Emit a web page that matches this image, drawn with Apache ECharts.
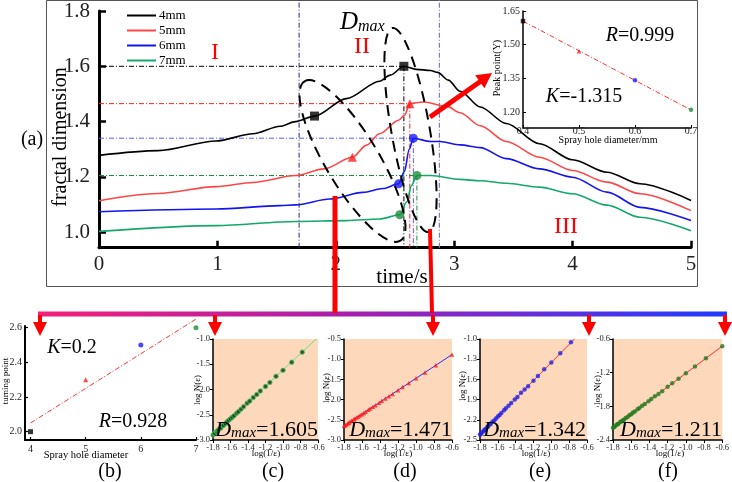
<!DOCTYPE html>
<html>
<head>
<meta charset="utf-8">
<script src="https://cdn.jsdelivr.net/npm/echarts@6/dist/echarts.min.js"></script>
<style>
  html, body { margin: 0; padding: 0; background: #fff; }
  #chart { width: 732px; height: 482px; }
</style>
</head>
<body>
<div id="chart"></div>
<script>
// ---- (a) fractal dimension vs time, one curve per spray hole diameter
const legendNames = ['4mm', '5mm', '6mm', '7mm'];
const t4 = [0, 0.5, 0.99, 1.3, 1.53, 1.66, 1.82, 2.09, 2.37, 2.46, 2.575, 2.68, 2.8, 2.86, 2.95, 3.05, 3.22, 3.44, 3.72, 4.0, 4.29, 4.57, 5.0];
const fd4 = [1.278, 1.295, 1.33, 1.356, 1.383, 1.40, 1.42, 1.483, 1.546, 1.568, 1.60, 1.589, 1.585, 1.578, 1.55, 1.51, 1.453, 1.393, 1.32, 1.262, 1.217, 1.175, 1.115];
const t5 = [0, 0.5, 0.99, 1.3, 1.66, 1.9, 2.14, 2.26, 2.37, 2.53, 2.58, 2.625, 2.74, 2.94, 3.05, 3.22, 3.44, 3.72, 4.0, 4.29, 4.57, 5.0];
const fd5 = [1.114, 1.14, 1.165, 1.18, 1.205, 1.229, 1.271, 1.315, 1.356, 1.405, 1.423, 1.465, 1.471, 1.455, 1.432, 1.385, 1.328, 1.271, 1.223, 1.181, 1.139, 1.078];
const t6 = [0, 0.99, 1.53, 1.66, 1.95, 2.23, 2.4, 2.53, 2.58, 2.62, 2.655, 2.8, 2.88, 3.05, 3.22, 3.44, 3.72, 4.0, 4.29, 4.57, 5.0];
const fd6 = [1.074, 1.084, 1.096, 1.099, 1.12, 1.144, 1.158, 1.175, 1.22, 1.30, 1.34, 1.328, 1.328, 1.316, 1.306, 1.266, 1.229, 1.199, 1.145, 1.09, 1.042];
const t7 = [0, 0.99, 1.66, 2.09, 2.37, 2.54, 2.6, 2.64, 2.685, 2.8, 3.05, 3.22, 3.44, 3.72, 4.0, 4.29, 4.57, 5.0];
const fd7 = [1.003, 1.024, 1.039, 1.042, 1.048, 1.063, 1.11, 1.17, 1.205, 1.205, 1.191, 1.186, 1.177, 1.163, 1.139, 1.098, 1.054, 1.005];

const turnT = [1.82, 2.14, 2.53, 2.54];
const turnD = [1.42, 1.271, 1.175, 1.063];
const peakT = [2.575, 2.625, 2.655, 2.685];
const peakD = [1.6, 1.465, 1.34, 1.205];
const phaseT = [1.69, 2.875];
const yTicksMain = [1.0, 1.2, 1.4, 1.6, 1.8];

// ---- inset: peak value vs hole diameter
const holeMm = [0.4, 0.5, 0.6, 0.7];
const dmax = [1.605, 1.471, 1.342, 1.211];
const dmaxFit = [1.605, 1.21];
const insetYTicks = [1.2, 1.35, 1.5, 1.65];

// ---- (b) turning point vs hole diameter
const holeB = [4, 5, 6, 7];
const turnB = [2.0, 2.3, 2.5, 2.6];
const turnFitB = [2.05, 2.65];
const bYTicks = [2.0, 2.2, 2.4, 2.6];

// ---- (c)-(f) box counting, log(1/eps) vs log N(eps)
const epsX = [-1.8, -1.79, -1.78, -1.76, -1.75, -1.74, -1.72, -1.71, -1.69, -1.68, -1.66, -1.64, -1.62, -1.6, -1.58, -1.56,
  -1.53, -1.51, -1.48, -1.45, -1.41, -1.38, -1.34, -1.3, -1.26, -1.2, -1.15, -1.08, -1.0, -0.9, -0.78, -0.6];
const logNc = [-2.9, -2.88, -2.87, -2.84, -2.82, -2.8, -2.77, -2.76, -2.72, -2.71, -2.68, -2.64, -2.61, -2.58, -2.55, -2.52,
  -2.47, -2.44, -2.39, -2.34, -2.27, -2.23, -2.16, -2.1, -2.03, -1.94, -1.86, -1.74, -1.62, -1.46, -1.26, null];
const logNd = [-2.65, -2.64, -2.62, -2.59, -2.58, -2.56, -2.53, -2.52, -2.49, -2.47, -2.44, -2.42, -2.39, -2.36, -2.33, -2.3,
  -2.25, -2.22, -2.18, -2.14, -2.08, -2.03, -1.97, -1.92, -1.86, -1.77, -1.69, -1.59, -1.47, -1.33, -1.15, -0.885];
const logNe = [-2.42, -2.41, -2.39, -2.37, -2.35, -2.34, -2.31, -2.3, -2.27, -2.26, -2.23, -2.21, -2.18, -2.15, -2.13, -2.1,
  -2.06, -2.03, -1.99, -1.95, -1.9, -1.86, -1.8, -1.75, -1.7, -1.62, -1.55, -1.45, -1.35, -1.21, -1.05, null];
const logNf = [-2.18, -2.17, -2.16, -2.13, -2.12, -2.11, -2.08, -2.07, -2.05, -2.04, -2.01, -1.99, -1.96, -1.94, -1.91, -1.89,
  -1.85, -1.83, -1.79, -1.76, -1.71, -1.67, -1.62, -1.58, -1.53, -1.45, -1.39, -1.31, -1.21, -1.09, -0.945, -0.727];
const fitC = [[-1.8, -2.9], [-0.62, -1.0]];
const fitD = [[-1.8, -2.65], [-0.6, -0.885]];
const fitE = [[-1.8, -2.42], [-0.74, -1.0]];
const fitF = [[-1.8, -2.18], [-0.6, -0.727]];
const epsTicks = [-1.8, -1.6, -1.4, -1.2, -1.0, -0.8, -0.6];
const yTicksC = [-3.0, -2.5, -2.0, -1.5, -1.0];
const yTicksD = [-3.0, -2.5, -2.0, -1.5, -1.0, -0.5];
const yTicksE = [-2.5, -2.2, -1.9, -1.6, -1.3, -1.0];
const yTicksF = [-2.4, -1.8, -1.2, -0.6];

const SERIF = '"Liberation Serif", "DejaVu Serif", serif';
const RED = '#ff0000';
const curveColors = ['#000000', '#ff4646', '#1414f0', '#14a86a'];
const markColors = ['#000000', '#ff1a1a', '#1a1aff', '#1e8c3c'];
const markShapes = ['rect', 'triangle', 'circle', 'circle'];
const Y_MIN = 0.944;

const chart = echarts.init(document.getElementById('chart'));

function axis(grid, min, max, o) {
  return {
    type: 'value', gridIndex: grid, min, max,
    axisLine: { lineStyle: { color: '#000', width: o.lw } },
    axisTick: { inside: o.inside, length: o.tl, lineStyle: { color: '#000', width: o.tw || o.lw },
      customValues: o.ticks },
    axisLabel: { fontFamily: SERIF, fontSize: o.fs, color: '#222', margin: o.m,
      customValues: o.ticks, formatter: v => o.dec == null ? String(v) : v.toFixed(o.dec) },
    splitLine: { show: false },
  };
}

function seg(pts, color, width, dash, gi) {
  return {
    type: 'line', xAxisIndex: gi, yAxisIndex: gi, data: pts, symbol: 'none', silent: true,
    clip: false, lineStyle: { color, width, type: dash }, z: 3,
  };
}
const DD = [5, 2, 1, 2];

const series = [];
// main curves
[[t4, fd4], [t5, fd5], [t6, fd6], [t7, fd7]].forEach(([t, v], i) => {
  series.push({
    type: 'line', name: legendNames[i], xAxisIndex: 0, yAxisIndex: 0,
    data: t.map((x, k) => [x, v[k]]), symbol: 'none', smooth: 0.3, smoothMonotone: 'x',
    lineStyle: { color: curveColors[i], width: 1.6 }, itemStyle: { color: curveColors[i] }, z: 5,
  });
});
// reference dash-dot lines
const refColors = ['#000000', '#ff2020', '#5a5aff', '#1a8a3a'];
peakT.forEach((t, i) => {
  series.push(seg([[0, peakD[i]], [t, peakD[i]]], refColors[i], 1, DD, 0));
  series.push(seg([[t, peakD[i]], [t, Y_MIN]], refColors[i], 1, DD, 0));
});
series.push(seg([[phaseT[0], Y_MIN], [phaseT[0], 1.84]], '#2a2a7a', 1, DD, 0));
series.push(seg([[phaseT[1], Y_MIN], [phaseT[1], 1.84]], '#7a7ad8', 1.2, DD, 0));
// markers
series.push({
  type: 'scatter', xAxisIndex: 0, yAxisIndex: 0, symbolSize: 9, z: 10,
  data: turnT.map((x, i) => ({ value: [x, turnD[i]], symbol: markShapes[i], itemStyle: { color: markColors[i] } })),
});
series.push({
  type: 'scatter', xAxisIndex: 0, yAxisIndex: 0, symbolSize: 9, z: 10,
  data: peakT.map((x, i) => ({ value: [x, peakD[i]], symbol: markShapes[i], itemStyle: { color: markColors[i] } })),
});
// inset
series.push(seg([[holeMm[0], dmaxFit[0]], [holeMm[3], dmaxFit[1]]], '#ff3030', 1, DD, 1));
series.push({
  type: 'scatter', xAxisIndex: 1, yAxisIndex: 1, symbolSize: 4.5, z: 10,
  data: holeMm.map((x, i) => ({ value: [x, dmax[i]], symbol: markShapes[i], itemStyle: { color: markColors[i] } })),
});
// (b)
series.push(seg([[holeB[0], turnFitB[0]], [holeB[3], turnFitB[1]]], '#ff3030', 1, DD, 2));
series.push({
  type: 'scatter', xAxisIndex: 2, yAxisIndex: 2, symbolSize: 5, z: 10,
  data: holeB.map((x, i) => ({ value: [x, turnB[i]], symbol: markShapes[i], itemStyle: { color: markColors[i] } })),
});
// (c)-(f)
const boxSets = [
  { y: logNc, fit: fitC, line: '#66e07a', sym: 'circle', fill: '#1c2e1c', border: '#3fcf5a' },
  { y: logNd, fit: fitD, line: '#2a2aff', sym: 'triangle', fill: '#ff1a1a', border: null },
  { y: logNe, fit: fitE, line: '#ff3030', sym: 'circle', fill: '#2020e8', border: null },
  { y: logNf, fit: fitF, line: '#ff3030', sym: 'circle', fill: '#1f7a1f', border: null },
];
boxSets.forEach((b, i) => {
  const gi = 3 + i;
  series.push(seg(b.fit, b.line, 1, 'solid', gi));
  series.push({
    type: 'scatter', xAxisIndex: gi, yAxisIndex: gi, symbol: b.sym, symbolSize: 4.5, z: 10,
    data: epsX.map((x, k) => [x, b.y[k]]).filter(p => p[1] != null),
    itemStyle: { color: b.fill, borderColor: b.border || b.fill, borderWidth: b.border ? 1 : 0 },
  });
});

const subX = { lw: 1.5, tl: 3, tw: 1, fs: 8.5, m: 3, inside: false, dec: 1, ticks: epsTicks };
const subY = t => ({ lw: 1.5, tl: 3, tw: 1, fs: 8.5, m: 3, inside: false, dec: 1, ticks: t });

// ---- text and drawn annotations
function txt(x, y, text, size, o = {}) {
  return {
    type: 'text', x, y, rotation: o.rot || 0, z: 60,
    style: {
      text, x: 0, y: 0, fill: o.color || '#000', align: o.align || 'center', verticalAlign: 'middle',
      fontFamily: SERIF, fontSize: size, fontStyle: o.italic ? 'italic' : 'normal', rich: o.rich,
    },
  };
}
function dmaxText(xr, y, val) {
  return txt(xr, y, '{D|D}{s|max}{n|=' + val + '}', 21, {
    align: 'right',
    rich: {
      D: { fontFamily: SERIF, fontSize: 22, fontStyle: 'italic', verticalAlign: 'top', lineHeight: 22 },
      s: { fontFamily: SERIF, fontSize: 15, fontStyle: 'italic', verticalAlign: 'bottom', lineHeight: 16, padding: [10, 0, 0, 0] },
      n: { fontFamily: SERIF, fontSize: 22, verticalAlign: 'top', lineHeight: 22 },
    },
  });
}
function kr(x, y, letter, val, size) {
  return txt(x, y, '{k|' + letter + '}{v|=' + val + '}', size, {
    rich: {
      k: { fontFamily: SERIF, fontSize: size, fontStyle: 'italic' },
      v: { fontFamily: SERIF, fontSize: size },
    },
  });
}
function downArrow(x) {
  return [
    { type: 'line', z: 70, shape: { x1: x, y1: 315, x2: x, y2: 324 }, style: { stroke: RED, lineWidth: 4 } },
    { type: 'polygon', z: 70, shape: { points: [[x - 7, 322], [x + 7, 322], [x, 336]] }, style: { fill: RED } },
  ];
}

const graphics = [
  { type: 'rect', z: 1, shape: { x: 46.5, y: 0.5, width: 651, height: 286 }, style: { fill: 'none', stroke: '#555', lineWidth: 1 } },
  { type: 'ellipse', z: 50, x: 352.5, y: 161, rotation: -59 * Math.PI / 180, shape: { cx: 0, cy: 0, rx: 93, ry: 26.5 },
    style: { fill: 'none', stroke: '#000', lineWidth: 2, lineDash: [11, 7] } },
  { type: 'ellipse', z: 50, x: 410.5, y: 130, rotation: -80 * Math.PI / 180, shape: { cx: 0, cy: 0, rx: 103.6, ry: 19.2 },
    style: { fill: 'none', stroke: '#000', lineWidth: 2, lineDash: [11, 7] } },
  { type: 'line', z: 70, shape: { x1: 335, y1: 196, x2: 335, y2: 313 }, style: { stroke: RED, lineWidth: 5 } },
  { type: 'line', z: 70, shape: { x1: 430, y1: 229, x2: 432, y2: 313 }, style: { stroke: RED, lineWidth: 4 } },
  { type: 'line', z: 70, shape: { x1: 430, y1: 117, x2: 481, y2: 81 }, style: { stroke: RED, lineWidth: 5 } },
  { type: 'polygon', z: 70, shape: { points: [[492, 73], [484.4, 88.2], [475.2, 75.2]] }, style: { fill: RED } },
  { type: 'rect', z: 65, shape: { x: 38, y: 311.5, width: 689, height: 5 },
    style: { fill: new echarts.graphic.LinearGradient(0, 0, 1, 0, [
      { offset: 0, color: '#f5207a' }, { offset: 0.45, color: '#a81eac' },
      { offset: 0.7, color: '#6a2ed8' }, { offset: 1, color: '#1e3cff' }]) } },
  ...[40, 215, 433, 589, 725].flatMap(downArrow),

  txt(32, 140, '(a)', 20),
  txt(61, 137, 'fractal dimension', 20, { rot: Math.PI / 2 }),
  txt(402, 277, 'time/s', 21),
  txt(215, 53, 'I', 24, { color: RED }),
  txt(362, 47, 'II', 24, { color: RED }),
  txt(566, 227, 'III', 24, { color: RED }),
  txt(340, 22, '{D|D}{s|max}', 24, {
    align: 'left',
    rich: {
      D: { fontFamily: SERIF, fontSize: 25, fontStyle: 'italic', verticalAlign: 'top', lineHeight: 25 },
      s: { fontFamily: SERIF, fontSize: 16, fontStyle: 'italic', verticalAlign: 'bottom', lineHeight: 16, padding: [12, 0, 0, 0] },
    },
  }),
  // inset
  txt(497, 68, 'Peak point(Y)', 10, { rot: Math.PI / 2 }),
  txt(608, 140, 'Spray hole diameter/mm', 10),
  kr(640, 36, 'R', '0.999', 20),
  kr(584, 97, 'K', '-1.315', 20),
  // (b)
  txt(6, 381, 'turning point', 9, { rot: Math.PI / 2 }),
  txt(86, 455, 'Spray hole diameter', 10.5),
  kr(72, 348, 'K', '0.2', 20),
  kr(133, 422, 'R', '0.928', 20),
  txt(110, 472, '(b)', 20),
  // (c)-(f)
  txt(198, 390, 'log N(ε)', 9, { rot: Math.PI / 2 }),
  txt(327, 388, 'log N(ε)', 9, { rot: Math.PI / 2 }),
  txt(463, 386, 'log N(ε)', 9, { rot: Math.PI / 2 }),
  txt(598, 390, 'log N(ε)', 9, { rot: Math.PI / 2 }),
  txt(266, 454, 'log(1/ε)', 9),
  txt(398, 454, 'log(1/ε)', 9),
  txt(536, 454, 'log(1/ε)', 9),
  txt(670, 454, 'log(1/ε)', 9),
  dmaxText(318, 430, '1.605'),
  dmaxText(452, 430, '1.471'),
  dmaxText(586, 430, '1.342'),
  dmaxText(722, 430, '1.211'),
  txt(273, 472, '(c)', 20),
  txt(405, 472, '(d)', 20),
  txt(540, 472, '(e)', 20),
  txt(668, 472, '(f)', 20),
];

const peach = '#fdd8bb';
chart.setOption({
  animation: false,
  backgroundColor: '#fff',
  textStyle: { fontFamily: SERIF },
  grid: [
    { left: 99, top: 11, width: 592, height: 236.7 },
    { left: 523, top: 11, width: 168, height: 117 },
    { left: 25, top: 326, width: 171, height: 114 },
    { left: 213, top: 339, width: 105, height: 101, show: true, backgroundColor: peach, borderWidth: 0 },
    { left: 344, top: 339, width: 108, height: 101, show: true, backgroundColor: peach, borderWidth: 0 },
    { left: 480, top: 339, width: 107, height: 101, show: true, backgroundColor: peach, borderWidth: 0 },
    { left: 613, top: 339, width: 113, height: 101, show: true, backgroundColor: peach, borderWidth: 0 },
  ],
  xAxis: [
    axis(0, 0, 5, { lw: 3, tl: 7, tw: 2.5, fs: 21, m: 6, inside: true, ticks: [0, 1, 2, 3, 4, 5] }),
    axis(1, 0.4, 0.7, { lw: 1.5, tl: 3, tw: 1, fs: 10, m: -2, inside: true, dec: 1, ticks: holeMm }),
    axis(2, 3.9, 7, { lw: 2, tl: 3, tw: 1.2, fs: 10, m: 4, inside: true, ticks: holeB }),
    axis(3, -1.8, -0.6, subX),
    axis(4, -1.8, -0.6, subX),
    axis(5, -1.8, -0.6, subX),
    axis(6, -1.8, -0.6, subX),
  ],
  yAxis: [
    axis(0, Y_MIN, 1.8, { lw: 3, tl: 7, tw: 2.5, fs: 21, m: 9, inside: true, dec: 1, ticks: yTicksMain }),
    axis(1, 1.13, 1.65, { lw: 1.5, tl: 3, tw: 1, fs: 10, m: 3, inside: true, dec: 2, ticks: insetYTicks }),
    axis(2, 1.952, 2.61, { lw: 2, tl: 3, tw: 1.2, fs: 10, m: 3, inside: true, dec: 1, ticks: bYTicks }),
    axis(3, -3.0, -1.0, subY(yTicksC)),
    axis(4, -3.0, -0.5, subY(yTicksD)),
    axis(5, -2.5, -1.0, subY(yTicksE)),
    axis(6, -2.4, -0.6, subY(yTicksF)),
  ],
  legend: {
    data: legendNames, orient: 'vertical', left: 122, top: 4, icon: 'rect',
    itemWidth: 29, itemHeight: 2, itemGap: 2, selectedMode: false,
    textStyle: { fontFamily: SERIF, fontSize: 13, color: '#000', padding: [0, 0, 0, -2] },
  },
  series,
  graphic: graphics,
});
</script>
</body>
</html>
